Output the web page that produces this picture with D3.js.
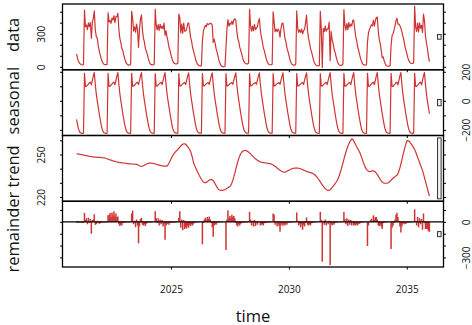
<!DOCTYPE html>
<html><head><meta charset="utf-8">
<script src="https://cdn.jsdelivr.net/npm/d3@7/dist/d3.min.js"></script>
<style>
body{margin:0;background:#fff;}
svg{display:block;}
text{font-family:"Open Sans","DejaVu Sans",sans-serif;fill:#111;}
</style>
</head><body>
<svg id="chart" width="472" height="325"></svg>
<script>
// ---- DATA (half-monthly, 24 per year, 2021 .. 2035) ----
const startYear = 2021;
const perYear = 24;

const seasonalRows = [
[-128,-167,-195,-213,-220,-223,-224,-223,190,100,100,108,115,125,128,110,140,172,195,113,48,0,-44,-89],
[-127,-166,-195,-213,-220,-223,-224,-223,189,101,100,109,116,124,128,111,140,171,195,114,49,1,-43,-88],
[-127,-166,-194,-212,-220,-223,-224,-223,189,101,101,109,116,124,127,112,141,171,194,114,49,1,-43,-88],
[-126,-165,-194,-212,-220,-222,-224,-223,188,102,101,110,117,123,127,112,141,170,194,115,50,2,-42,-87],
[-126,-165,-194,-212,-219,-222,-223,-222,188,102,102,110,117,123,126,113,142,170,193,115,50,2,-42,-87],
[-125,-164,-193,-211,-219,-222,-223,-222,187,103,102,111,118,122,126,113,142,169,193,116,51,3,-41,-86],
[-125,-164,-193,-211,-219,-222,-223,-222,187,103,103,111,118,122,125,114,143,169,192,116,51,3,-41,-86],
[-125,-164,-193,-211,-219,-222,-223,-222,187,103,103,111,118,122,125,114,143,169,192,116,51,3,-41,-86],
[-125,-164,-193,-211,-219,-222,-223,-222,187,103,103,111,118,122,125,114,143,169,192,116,51,3,-41,-86],
[-126,-165,-194,-212,-219,-222,-223,-222,188,102,102,110,117,123,126,113,142,170,193,115,50,2,-42,-87],
[-126,-165,-194,-212,-220,-222,-224,-223,188,102,101,110,117,123,127,112,141,170,194,115,50,2,-42,-87],
[-127,-166,-194,-212,-220,-223,-224,-223,189,101,101,109,116,124,127,112,141,171,194,114,49,1,-43,-88],
[-127,-166,-195,-213,-220,-223,-224,-223,189,101,100,109,116,124,128,111,140,171,195,114,49,1,-43,-88],
[-128,-167,-195,-213,-220,-223,-224,-223,190,100,100,108,115,125,128,110,140,172,195,113,48,0,-44,-89],
[-128,-167,-195,-213,-220,-223,-224,-223,190,100,100,108,115,125,128,110,140,172,195,113,48,0,-44,-89]
];

const trendRows = [
[250.5,250.4,250.3,250.2,250.0,249.9,249.8,249.6,249.5,249.3,249.2,249.0,248.9,248.7,248.6,248.5,248.4,248.3,248.2,248.1,248.1,248.0,248.0,247.9],
[247.9,247.8,247.8,247.7,247.6,247.5,247.2,247.0,246.7,246.5,246.2,246.0,245.8,245.5,245.3,245.1,244.9,244.7,244.6,244.4,244.3,244.2,244.1,244.0],
[244.0,243.9,243.8,243.7,243.6,243.5,243.4,243.4,243.3,243.3,243.2,243.2,243.1,243.0,242.8,242.4,242.0,241.7,241.6,241.7,242.0,242.4,242.9,243.3],
[243.6,243.8,243.9,243.9,243.9,243.8,243.7,243.5,243.3,243.1,242.9,242.7,242.5,242.3,242.1,242.0,241.9,241.8,241.8,241.8,241.8,242.6,243.8,245.3],
[246.8,248.2,249.4,250.5,251.4,252.2,252.8,253.6,254.4,255.2,256.0,256.7,257.2,257.5,257.5,257.2,256.5,255.6,254.6,253.5,252.2,250.0,247.2,244.0],
[242.4,240.9,239.4,237.9,236.4,235.0,233.7,232.5,231.4,230.6,230.2,230.1,230.3,230.8,231.4,231.9,232.2,232.3,232.1,231.5,230.5,229.3,228.0,226.8],
[225.6,225.1,224.8,224.7,224.7,224.8,225.0,225.3,225.7,226.1,226.5,227.0,227.3,228.3,229.8,231.8,234.2,236.9,239.7,242.4,244.9,247.1,249.0,250.5],
[251.6,252.3,252.7,252.8,252.8,252.6,252.2,251.7,251.1,250.4,249.7,249.0,248.3,247.6,247.0,246.4,245.9,245.5,245.1,244.8,244.6,244.4,244.3,244.2],
[244.0,243.9,243.8,243.7,243.6,243.5,243.3,243.0,242.6,242.1,241.6,241.1,240.5,240.0,239.4,238.9,238.4,238.0,237.7,237.6,237.6,237.8,238.1,238.5],
[238.9,239.3,239.6,239.9,240.1,240.3,240.4,240.4,240.4,240.4,240.3,240.1,239.9,239.6,239.3,239.0,238.7,238.4,238.1,237.9,237.6,237.4,237.2,237.0],
[236.8,236.4,235.9,235.3,234.5,233.6,232.7,231.7,230.7,229.6,228.6,227.6,226.7,225.9,225.3,224.9,224.7,224.7,225.1,225.8,226.6,227.5,228.4,229.4],
[230.4,231.5,232.9,234.6,236.6,238.9,241.4,244.0,246.6,249.2,251.6,253.8,255.8,257.5,258.9,259.9,261.0,260.8,259.6,258.3,256.8,255.4,254.1,253.0],
[251.7,249.9,248.0,246.0,244.0,242.2,240.7,239.5,238.8,238.2,237.9,238.0,238.3,238.5,238.5,238.2,237.6,236.8,235.8,234.7,233.5,232.4,231.4,230.6],
[230.1,229.8,229.7,229.7,229.8,230.1,230.5,231.1,231.8,232.5,233.2,233.8,234.4,234.9,235.3,236.5,238.3,240.6,243.3,246.2,249.2,252.1,254.8,257.1],
[259.6,259.8,259.5,258.8,257.9,256.9,255.9,254.8,253.5,251.9,250.0,248.1,246.2,244.3,242.4,240.6,238.8,236.3,233.7,231.1,228.5,225.9,223.3,220.7]
];

const remainderRows = [
[-6,-10,-8,-5,-6,-8,-10,-8,75,15,30,-20,35,-10,25,-100,15,20,65,-25,-20,10,-10,-15],
[-12,-8,-5,-4,-6,-5,-4,-3,55,60,75,40,80,55,90,45,70,40,45,-20,-35,-25,-30,-10],
[-10,-6,-5,-3,-4,-6,-3,2,70,95,-20,10,-45,20,-30,-180,-40,25,35,-25,-30,-20,-35,-15],
[-8,-5,-4,-6,-5,-4,-2,4,90,30,-10,30,-30,20,-20,15,-40,-15,-150,-30,-20,-15,-25,-10],
[-10,-8,-6,-5,-5,-4,-3,0,35,90,-50,20,-70,15,-60,-45,-55,-35,-50,-25,-35,-20,-30,-15],
[-10,-6,-5,-4,-3,-4,-2,0,-190,-10,20,35,15,40,25,45,20,-10,-45,-126,-30,-20,-25,-10],
[-8,-5,-3,-2,-3,-2,0,2,-238,20,98,30,50,35,60,40,50,30,-10,-30,-40,-20,-30,-15],
[-10,-8,-6,-5,-4,-5,-3,5,85,20,-30,10,-40,15,-35,-10,-25,-5,0,-30,-25,-20,-30,-12],
[-10,-8,-5,-4,-5,-3,-2,3,70,60,-25,-10,-40,-20,-35,-84,-30,-15,-33,-20,-30,-15,-25,-10],
[-8,-6,-5,-4,-4,-3,-2,4,80,10,-30,-15,-45,-20,-67,-25,-40,-10,37,-25,-30,-20,-30,-12],
[-10,-6,-5,-4,-3,-2,-1,3,85,15,-336,10,-25,20,-30,5,-20,10,-364,-20,-30,-15,-25,-10],
[-8,-6,-4,-3,-4,-3,-2,4,84,25,-20,30,-35,20,-25,15,-30,-10,-30,-25,-30,-20,-30,-15],
[-15,-10,-6,-5,-4,-3,-2,2,-204,-30,0,15,27,10,56,20,40,40,20,-30,-35,-25,-40,-60],
[-12,-8,-5,-4,-3,-2,-1,2,-229,-50,-33,-10,20,60,77,40,10,-40,-90,-40,-20,-10,-20,-15],
[-10,-8,-6,-4,-5,-3,-2,5,107,8,-30,40,-45,30,-20,25,-67,70,-10,-60,-60,-60,-80,-84]
];

const panelNames = ["data", "seasonal", "trend", "remainder"];
const panelDomains = [[-27, 570], [-239, 214], [217, 263.4], [-381, 174]];
const panelTicks = [[0,100,200,300,400,500], [-200,-100,0,100,200], [220,230,240,250,260], [-300,-200,-100,0,100]];
const panelTickLabels = [[0,300], [-200,0,200], [220,250], [-300,0]];
const xTickValues = [2025, 2030, 2035];
const xLabel = "time";

(function () {
// ---- BUILD SERIES ----
const seasonal = seasonalRows.flat();
const trend = trendRows.flat();
const remainder = remainderRows.flat();
const time = seasonal.map((_, i) => startYear + i / perYear);
const data = seasonal.map((s, i) => s + trend[i] + remainder[i]);
const series = [data, seasonal, trend, remainder];

// ---- LAYOUT ----
const svg = d3.select("#chart");
const pL = 62.5, pR = 443.5, pT = 4, pB = 267;
const ph = (pB - pT) / 4;
const red = "#cf3434";
const tickLen = 2.5;

const tExt = d3.extent(time);
const tPad = (tExt[1] - tExt[0]) * 0.04;
const x = d3.scaleLinear().domain([tExt[0] - tPad, tExt[1] + tPad]).range([pL, pR]);

// range bar size (as in R plot.stl: smallest range among components)
const mx = d3.min(panelDomains, d => (d[1] - d[0]) / 1.08);
const dx = (pR - pL) / 64;

const fmt = v => (v < 0 ? "\u2212" + Math.abs(v) : String(v));

series.forEach((vals, i) => {
  const y0 = pT + i * ph, y1 = y0 + ph;
  const y = d3.scaleLinear().domain(panelDomains[i]).range([y1, y0]);
  const g = svg.append("g");

  const clipId = "clip" + i;
  svg.append("clipPath").attr("id", clipId)
    .append("rect").attr("x", pL).attr("y", y0).attr("width", pR - pL).attr("height", ph);

  const pts = vals.map((v, k) => [time[k], v]);
  if (i < 3) {
    g.append("path")
      .attr("clip-path", `url(#${clipId})`)
      .attr("d", d3.line().x(d => x(d[0])).y(d => y(d[1]))(pts))
      .attr("fill", "none").attr("stroke", red).attr("stroke-width", 1.2)
      .attr("stroke-linejoin", "round");
  } else {
    g.append("g").attr("clip-path", `url(#${clipId})`)
      .selectAll("line").data(pts).join("line")
      .attr("x1", d => x(d[0])).attr("x2", d => x(d[0]))
      .attr("y1", y(0)).attr("y2", d => y(d[1]))
      .attr("stroke", red).attr("stroke-width", 1.5);
    g.append("line").attr("x1", pL).attr("x2", pR)
      .attr("y1", y(0)).attr("y2", y(0))
      .attr("stroke", "#000").attr("stroke-width", 1.4);
  }

  // range bar
  const ym = (panelDomains[i][0] + panelDomains[i][1]) / 2;
  g.append("rect")
    .attr("x", pR - dx).attr("width", dx * 0.6)
    .attr("y", y(ym + mx / 2)).attr("height", y(ym - mx / 2) - y(ym + mx / 2))
    .attr("fill", "#f3f3f3").attr("stroke", "#333").attr("stroke-width", 1);

  // frame
  g.append("rect").attr("x", pL).attr("y", y0).attr("width", pR - pL).attr("height", ph)
    .attr("fill", "none").attr("stroke", "#000").attr("stroke-width", 1.3);

  const labelsRight = i % 2 === 1;
  const lab = panelTickLabels[i];

  const axL = g.append("g").attr("transform", `translate(${pL},0)`)
    .call(d3.axisLeft(y).tickValues(panelTicks[i]).tickSize(tickLen).tickSizeOuter(0)
      .tickFormat(v => (!labelsRight && lab.includes(v)) ? fmt(v) : ""));
  const axR = g.append("g").attr("transform", `translate(${pR},0)`)
    .call(d3.axisRight(y).tickValues(panelTicks[i]).tickSize(tickLen).tickSizeOuter(0)
      .tickFormat(v => (labelsRight && lab.includes(v)) ? fmt(v) : ""));
  [[axL, -21.5], [axR, 22.5]].forEach(([ax, off]) => {
    ax.select(".domain").remove();
    ax.selectAll(".tick line").attr("stroke", "#000").attr("stroke-width", 1);
    ax.selectAll(".tick text")
      .attr("x", 0).attr("y", 0).attr("dy", null)
      .attr("transform", `translate(${off},0) rotate(-90)`)
      .attr("text-anchor", "middle").attr("dominant-baseline", "central")
      .attr("font-size", 10).attr("font-family", "'Open Sans', sans-serif").attr("fill", "#111");
  });

  const axB = g.append("g").attr("transform", `translate(0,${y1})`)
    .call(d3.axisBottom(x).tickValues(xTickValues).tickSize(tickLen).tickSizeOuter(0)
      .tickFormat(v => i === 3 ? String(v) : ""));
  axB.select(".domain").remove();
  axB.selectAll(".tick line").attr("stroke", "#000").attr("stroke-width", 1);
  axB.selectAll(".tick text")
    .attr("y", 0).attr("dy", null).attr("dominant-baseline", "central")
    .attr("transform", "translate(0,22.3)")
    .attr("font-size", 10).attr("font-family", "'Open Sans', sans-serif").attr("fill", "#111");

  // panel label
  svg.append("text")
    .attr("transform", `translate(18.5,${(y0 + y1) / 2 - 2}) rotate(-90)`)
    .attr("text-anchor", "middle")
    .attr("font-size", 16.5)
    .text(panelNames[i]);
});

svg.append("text")
  .attr("x", (pL + pR) / 2).attr("y", 321.5)
  .attr("text-anchor", "middle").attr("font-size", 16.5)
  .text(xLabel);
})();
</script>
</body></html>
